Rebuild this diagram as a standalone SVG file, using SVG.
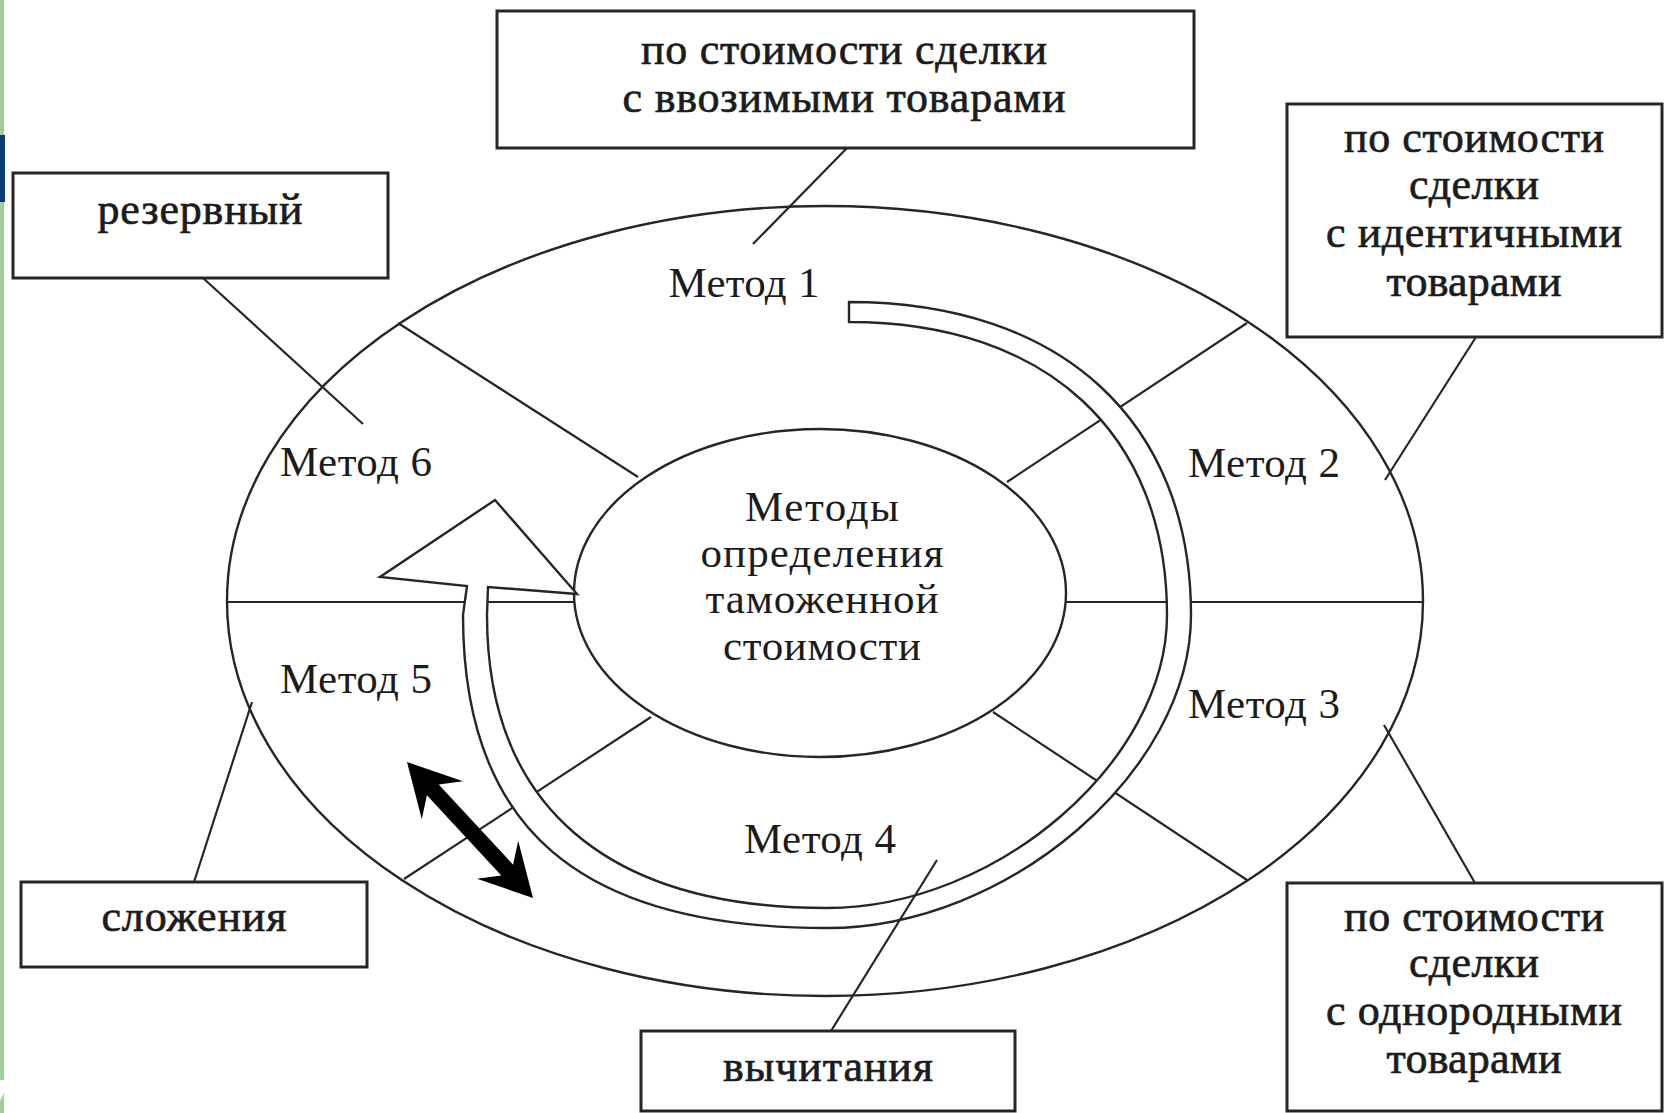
<svg xmlns="http://www.w3.org/2000/svg" width="1675" height="1113" viewBox="0 0 1675 1113">
<style>
.box{fill:#fff;stroke:#262626;stroke-width:3}
.ln{stroke:#262626;stroke-width:2.2;fill:none}
.sh{fill:#fff;stroke:#262626;stroke-width:2.4}
.bt{font-family:"Liberation Serif","Times New Roman",serif;font-size:44px;fill:#1c1c1c;text-anchor:middle;stroke:#1c1c1c;stroke-width:0.7}
.mt{font-family:"Liberation Serif","Times New Roman",serif;font-size:43px;fill:#1c1c1c;text-anchor:middle}
</style>
<rect x="0" y="0" width="1675" height="1113" fill="#fff"/>
<rect x="0" y="0" width="4" height="1080" fill="#9fcd9c"/>
<rect x="0" y="135" width="5" height="67" fill="#0b3d6e"/>
<polygon points="0,1101 4,1093 4,1113 0,1113" fill="#9fcd9c"/>

<g id="wheel">
<ellipse class="sh" cx="825" cy="601" rx="598" ry="395"/>
<g id="dividers">
<line class="ln" x1="398" y1="323" x2="638" y2="477"/>
<line class="ln" x1="1247" y1="323" x2="1007" y2="482"/>
<line class="ln" x1="404" y1="879" x2="651" y2="717"/>
<line class="ln" x1="1247" y1="880" x2="993" y2="712"/>
<line class="ln" x1="226" y1="602" x2="574" y2="602"/>
<line class="ln" x1="1066" y1="602" x2="1423" y2="602"/>
</g>
<ellipse class="sh" cx="820" cy="593" rx="246" ry="164"/>
</g>

<g id="cycle-arrow">
<path class="sh" d="M849,302 C1061,302 1191,421 1191,615 C1191,771 1009,928 827,928 C579,928 463,828 463,615 L467,586 L380,577 L495,500 L577,594 L488,587 L487,615 C487,805 606,908 827,908 C997,908 1167,761 1167,615 C1167,433 1046,322 849,322 Z"/>
</g>

<g id="double-arrow">
<polygon fill="#000" points="407,762 463,781.2 438.7,784.5 513.1,864.7 518.2,840.8 533,898 477,878.8 501.3,875.5 426.9,795.3 421.8,819.2"/>
</g>

<g id="center">
<text class="mt" x="822" y="521" textLength="154">Методы</text>
<text class="mt" x="822" y="567" textLength="243">определения</text>
<text class="mt" x="822" y="613" textLength="233">таможенной</text>
<text class="mt" x="822" y="660" textLength="198">стоимости</text>
</g>

<g id="method-labels">
<text class="mt" x="744" y="297" textLength="151">Метод 1</text>
<text class="mt" x="1264" y="477" textLength="152">Метод 2</text>
<text class="mt" x="1264" y="718" textLength="152">Метод 3</text>
<text class="mt" x="820" y="853" textLength="152">Метод 4</text>
<text class="mt" x="356" y="693" textLength="152">Метод 5</text>
<text class="mt" x="356" y="476" textLength="152">Метод 6</text>
</g>

<g id="connectors">
<line class="ln" x1="847" y1="148" x2="753" y2="244"/>
<line class="ln" x1="1476" y1="337" x2="1385" y2="480"/>
<line class="ln" x1="203" y1="278" x2="363" y2="424"/>
<line class="ln" x1="194" y1="882" x2="252" y2="702"/>
<line class="ln" x1="831" y1="1031" x2="937" y2="860"/>
<line class="ln" x1="1475" y1="883" x2="1384" y2="725"/>
</g>

<g id="box-method1">
<rect class="box" x="497" y="11" width="697" height="137"/>
<text class="bt" x="844" y="64" textLength="406">по стоимости сделки</text>
<text class="bt" x="844" y="112" textLength="443">с ввозимыми товарами</text>
</g>
<g id="box-method2">
<rect class="box" x="1287" y="104" width="375" height="233"/>
<text class="bt" x="1474" y="152" textLength="260">по стоимости</text>
<text class="bt" x="1474" y="199" textLength="130">сделки</text>
<text class="bt" x="1474" y="247" textLength="296">с идентичными</text>
<text class="bt" x="1474" y="296" textLength="175">товарами</text>
</g>
<g id="box-method3">
<rect class="box" x="1287" y="883" width="375" height="228"/>
<text class="bt" x="1474" y="931" textLength="260">по стоимости</text>
<text class="bt" x="1474" y="977" textLength="130">сделки</text>
<text class="bt" x="1474" y="1025" textLength="296">с однородными</text>
<text class="bt" x="1474" y="1073" textLength="175">товарами</text>
</g>
<g id="box-method4">
<rect class="box" x="641" y="1031" width="374" height="80"/>
<text class="bt" x="828" y="1081" textLength="210">вычитания</text>
</g>
<g id="box-method5">
<rect class="box" x="21" y="882" width="346" height="85"/>
<text class="bt" x="194" y="931" textLength="185">сложения</text>
</g>
<g id="box-method6">
<rect class="box" x="13" y="173" width="375" height="105"/>
<text class="bt" x="200" y="224" textLength="205">резервный</text>
</g>
</svg>
